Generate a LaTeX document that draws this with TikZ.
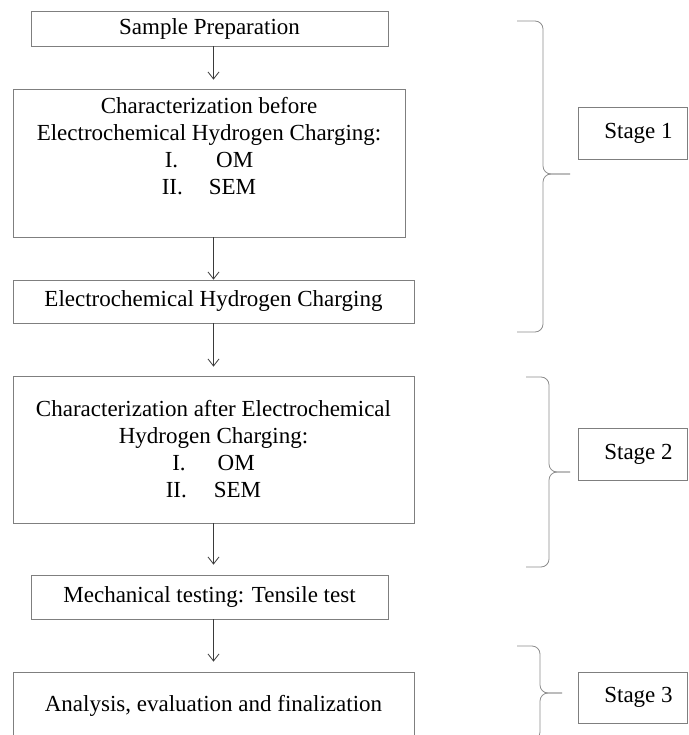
\documentclass[tikz,border=0pt]{standalone}
\usepackage{fontspec}
\setmainfont{Liberation Serif}
\usepackage{xcolor}
\usepackage{tikz}
\usetikzlibrary{arrows.meta,calc}

\definecolor{boxgray}{HTML}{7F7F7F}
\definecolor{arrowdark}{HTML}{3A3A3A}
\definecolor{bracegray}{HTML}{8C8C8C}

\begin{document}
\begin{tikzpicture}[
    x=1pt, y=-1pt,
    process/.style={rectangle, draw=boxgray, line width=0.8pt, inner sep=0pt, align=center, font=\fontsize{23}{27}\selectfont},
    stagebox/.style={process, minimum width=109pt, minimum height=52pt},
    stagebrace/.style={draw=bracegray, line width=0.8pt, rounded corners=8pt},
    arrow/.style={draw=arrowdark, line width=0.8pt, -{Straight Barb[length=7pt,width=11pt]}}
]

\clip (0,0) rectangle (688,735);

\coordinate (axis) at (213.5,0);

\node[process, minimum width=357pt, minimum height=35pt] (prep) at (209.5,28.5) {Sample Preparation};
\node[process, minimum width=392pt, minimum height=148pt] (before) at (209,163) {Characterization before\\Electrochemical Hydrogen Charging:\\I.\hspace{38pt}OM\\II.\hspace{26pt}SEM\\ \strut};
\node[process, minimum width=401pt, minimum height=43pt] (charging) at (213.5,301.5) {Electrochemical Hydrogen Charging};
\node[process, minimum width=401pt, minimum height=147pt] (after) at (213.5,449.5) {Characterization after Electrochemical\\Hydrogen Charging:\\I.\hspace{32pt}OM\\II.\hspace{27pt}SEM};
\node[process, minimum width=357pt, minimum height=44pt] (tensile) at (209.5,597) {Mechanical testing: Tensile test};
\node[process, minimum width=401pt, minimum height=68pt] (analysis) at (213.5,706) {Analysis, evaluation and finalization};

\draw[arrow, shorten >=9pt] (prep.south -| axis) -- (before.north -| axis);
\draw[arrow] (before.south -| axis) -- (charging.north -| axis);
\draw[arrow, shorten >=9pt] (charging.south -| axis) -- (after.north -| axis);
\draw[arrow, shorten >=10pt] (after.south -| axis) -- (tensile.north -| axis);
\draw[arrow, shorten >=10pt] (tensile.south -| axis) -- (analysis.north -| axis);

% stages
\node[stagebox] (stage1) at (632.5,133) {\hspace{12pt}Stage 1};
\node[stagebox] (stage2) at (632.5,454) {\hspace{12pt}Stage 2};
\node[stagebox, minimum height=51pt] (stage3) at (632.5,697.5) {\hspace{12pt}Stage 3};

\draw[stagebrace] (517,21) -- (543,21) -- (543,174) -- (570,174);
\draw[stagebrace] (570,174) -- (543,174) -- (543,332) -- (517,332);

\draw[stagebrace] (526,377) -- (549,377) -- (549,472) -- (570,472);
\draw[stagebrace] (570,472) -- (549,472) -- (549,567) -- (526,567);

\draw[stagebrace] (517,646) -- (540,646) -- (540,693) -- (562,693);
\draw[stagebrace] (562,693) -- (540,693) -- (540,740) -- (517,740);

\end{tikzpicture}
\end{document}
